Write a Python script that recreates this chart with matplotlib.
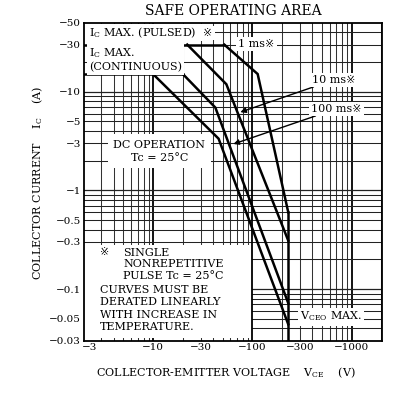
import matplotlib
matplotlib.use("Agg")
import matplotlib.pyplot as plt
import matplotlib.transforms as mtransforms
from matplotlib.patches import Rectangle

plt.rcParams['font.family'] = ['DejaVu Serif', 'DejaVu Sans', 'Noto Sans CJK JP']
plt.rcParams['mathtext.fontset'] = 'dejavuserif'

# Safe operating area (values are magnitudes; the datasheet shows them negative)
V_CEO_MAX = 230
IC_PULSED = 30
IC_CONT = 15

pulsed_v = [2, 52]
pulsed_i = [IC_PULSED, IC_PULSED]
cont_v = [2, 20]
cont_i = [IC_CONT, IC_CONT]

dc_v = [10, 45.6, V_CEO_MAX]
dc_i = [15, 3.34, 0.044]
ms100_v = [20, 42.3, V_CEO_MAX]
ms100_i = [15, 6.9, 0.072]
ms10_v = [22, 54.6, V_CEO_MAX]
ms10_i = [30, 11.9, 0.31]
ms1_v = [52, 113, V_CEO_MAX]
ms1_i = [30, 15.1, 0.6]
vceo_v = [V_CEO_MAX, V_CEO_MAX]
vceo_i = [0.6, 0.03]

x_ticks = [3, 10, 30, 100, 300, 1000]
x_labels = ["\u22123", "\u221210", "\u221230", "\u2212100", "\u2212300", "\u22121000"]
y_ticks = [50, 30, 10, 5, 3, 1, 0.5, 0.3, 0.1, 0.05, 0.03]
y_labels = ["\u221250", "\u221230", "\u221210", "\u22125", "\u22123", "\u22121",
            "\u22120.5", "\u22120.3", "\u22120.1", "\u22120.05", "\u22120.03"]

fig = plt.figure(figsize=(4.05, 3.94), dpi=100)
ax = fig.add_axes([84 / 405, 1 - 340.7 / 394, 298 / 405, 318 / 394])
ax.set_xscale('log')
ax.set_yscale('log')
ax.set_xlim(2, 2030)
ax.set_ylim(0.0316, 50)

# grid
for dec in [1, 10, 100, 1000]:
    for m in range(1, 10):
        v = m * dec
        if 2 < v < 2030:
            major = (m == 1)
            ax.axvline(v, color='black' if major else '#333333',
                       lw=1.3 if major else 0.75, zorder=1.6 if v == 100 else 1)
for dec in [0.01, 0.1, 1, 10]:
    for m in range(1, 10):
        c = m * dec
        if 0.0316 < c < 50:
            ax.axhline(c, color='#222222', lw=0.9 if m == 1 else 0.75, zorder=1)

# blank areas: note block and the label strip above the pulsed limit
ax.add_patch(Rectangle((2, 0.0316), 98, 0.28 - 0.0316, facecolor='white',
                       edgecolor='none', zorder=1.5))
ax.add_patch(Rectangle((2, 33), 37, 15, facecolor='white',
                       edgecolor='none', zorder=1.5))

kw = dict(color='black', lw=1.8, zorder=3, solid_joinstyle='miter')
ax.plot(pulsed_v, pulsed_i, **kw)
ax.plot(cont_v, cont_i, **kw)
ax.plot(dc_v, dc_i, **kw)
ax.plot(ms100_v, ms100_i, **kw)
ax.plot(ms10_v, ms10_i, **kw)
ax.plot(ms1_v, ms1_i, **kw)
ax.plot(vceo_v, vceo_i, **kw)

box = dict(facecolor='white', edgecolor='none', pad=1.5)
fs = 8
ax.text(2.26, 39.4, "I$_\\mathregular{C}$ MAX. (PULSED)", fontsize=fs,
        ha='left', va='center', bbox=box, zorder=4)
ax.text(35.5, 39.4, "\u203b", fontsize=fs, ha='center', va='center',
        bbox=box, zorder=4)
ax.text(2.26, 21.3, "I$_\\mathregular{C}$ MAX.\n(CONTINUOUS)", fontsize=fs,
        ha='left', va='center', bbox=box, zorder=4, linespacing=1.3)
ax.text(110, 30.5, "1 ms\u203b", fontsize=fs, ha='center', va='center',
        bbox=box, zorder=4)
arrow = dict(arrowstyle='-|>', color='black', lw=1.0, mutation_scale=8,
             shrinkA=0, shrinkB=0)
ax.annotate("10 ms\u203b", xy=(75.6, 6.2), xytext=(403, 13.2), fontsize=fs,
            ha='left', va='center', bbox=box, zorder=4, arrowprops=arrow)
ax.annotate("100 ms\u203b", xy=(64.4, 2.95), xytext=(390, 6.7), fontsize=fs,
            ha='left', va='center', bbox=box, zorder=4, arrowprops=arrow)
ax.text(11.5, 2.5, "DC OPERATION\nTc = 25\u00b0C", fontsize=fs, ha='center',
        va='center', bbox=dict(facecolor='white', edgecolor='none', pad=4),
        zorder=4, linespacing=1.35)
ax.text(3.2, 0.235, "\u203b", fontsize=fs, ha='center', va='center', zorder=4)
ax.text(5.0, 0.178, "SINGLE\nNONREPETITIVE\nPULSE Tc = 25\u00b0C", fontsize=fs,
        ha='left', va='center', zorder=4, linespacing=1.2)
ax.text(2.92, 0.0635, "CURVES MUST BE\nDERATED LINEARLY\nWITH INCREASE IN\nTEMPERATURE.",
        fontsize=fs, ha='left', va='center', zorder=4, linespacing=1.3,
        bbox=dict(facecolor='white', edgecolor='none', pad=0.5))
ax.text(626, 0.0527, "V$_\\mathregular{CEO}$ MAX.", fontsize=fs, ha='center',
        va='center', bbox=box, zorder=4)

ax.set_xticks(x_ticks)
ax.set_xticklabels(x_labels)
ax.set_yticks(y_ticks)
ax.set_yticklabels(y_labels)
ax.minorticks_off()
ax.tick_params(length=0, labelsize=7.5, pad=2)
for s in ax.spines.values():
    s.set_linewidth(1.3)

# first x label sits at the left edge in the original
lab = ax.xaxis.get_major_ticks()[0].label1
lab.set_transform(lab.get_transform() +
                  mtransforms.ScaledTranslation(-12 / 100, 0, fig.dpi_scale_trans))

ax.set_title("SAFE OPERATING AREA", fontsize=10, pad=5.5)
fig.text(226 / 405, 1 - 373 / 394,
         "COLLECTOR-EMITTER VOLTAGE    V$_\\mathregular{CE}$    (V)",
         fontsize=8, ha='center', va='center')
fig.text(38 / 405, 1 - 183 / 394,
         "COLLECTOR CURRENT    I$_\\mathregular{C}$    (A)",
         fontsize=8, ha='center', va='center', rotation=90)

fig.savefig("out.png", dpi=100)
